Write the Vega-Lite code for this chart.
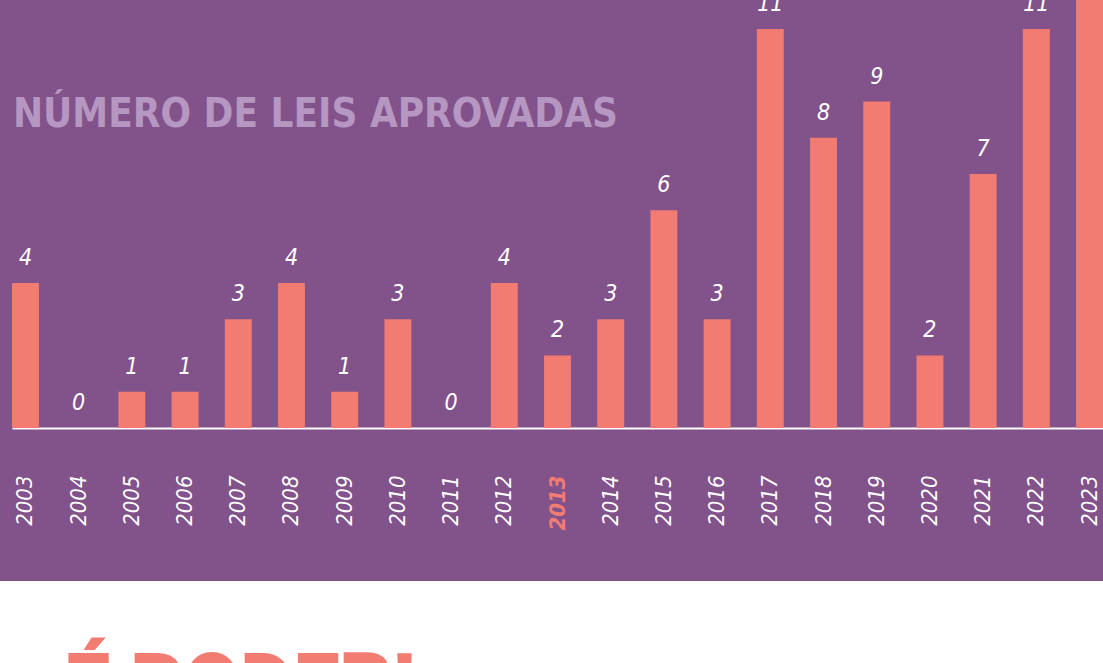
{
  "$schema": "https://vega.github.io/schema/vega-lite/v6.json",
  "background": "#82528A",
  "padding": 0,
  "spacing": 153,
  "bounds": "flush",
  "config": {"view": {"stroke": null}},
  "vconcat": [
    {
      "width": 1103,
      "height": 428,
      "title": {
        "text": "NÚMERO DE LEIS APROVADAS",
        "frame": "group",
        "anchor": "start",
        "orient": "top",
        "offset": -167,
        "baseline": "alphabetic",
        "dx": 13,
        "font": "DejaVu Sans Condensed, sans-serif",
        "fontSize": 40,
        "fontWeight": "bold",
        "color": "#B597C2"
      },
      "data": {
        "values": [
          {"year": "2003", "n": 4}, {"year": "2004", "n": 0}, {"year": "2005", "n": 1},
          {"year": "2006", "n": 1}, {"year": "2007", "n": 3}, {"year": "2008", "n": 4},
          {"year": "2009", "n": 1}, {"year": "2010", "n": 3}, {"year": "2011", "n": 0},
          {"year": "2012", "n": 4}, {"year": "2013", "n": 2}, {"year": "2014", "n": 3},
          {"year": "2015", "n": 6}, {"year": "2016", "n": 3}, {"year": "2017", "n": 11},
          {"year": "2018", "n": 8}, {"year": "2019", "n": 9}, {"year": "2020", "n": 2},
          {"year": "2021", "n": 7}, {"year": "2022", "n": 11}, {"year": "2023", "n": 13}
        ]
      },
      "encoding": {
        "x": {
          "field": "year",
          "type": "ordinal",
          "scale": {"range": [12, 1103], "paddingInner": 0.494, "paddingOuter": 0},
          "axis": {
            "title": null,
            "ticks": false,
            "domainColor": "white",
            "domainWidth": 2,
            "labelAngle": -90,
            "labelPadding": 47,
            "labelFont": "DejaVu Sans Condensed, sans-serif",
            "labelFontSize": 22,
            "labelFontStyle": "italic",
            "labelOverlap": false,
            "labelBound": false,
            "labelColor": {"condition": {"test": "datum.value == '2013'", "value": "#F27B72"}, "value": "white"},
            "labelFontWeight": {"condition": {"test": "datum.value == '2013'", "value": "bold"}, "value": "normal"}
          }
        },
        "y": {
          "field": "n",
          "type": "quantitative",
          "scale": {"domain": [0, 11.8], "nice": false, "zero": true},
          "axis": null
        }
      },
      "layer": [
        {"mark": {"type": "bar", "color": "#F27B72", "clip": true}},
        {
          "mark": {
            "type": "text",
            "clip": true,
            "dy": -18,
            "baseline": "alphabetic",
            "align": "center",
            "font": "DejaVu Sans Condensed, sans-serif",
            "fontSize": 23,
            "fontStyle": "italic",
            "color": "white"
          },
          "encoding": {"text": {"field": "n", "type": "quantitative"}}
        }
      ]
    },
    {
      "width": 1103,
      "height": 82,
      "view": {"fill": "white", "stroke": null},
      "data": {"values": [{"label": "É PODER!"}]},
      "mark": {
        "type": "text",
        "clip": true,
        "align": "left",
        "baseline": "alphabetic",
        "font": "Roboto, sans-serif",
        "fontWeight": 900,
        "fontSize": 82,
        "letterSpacing": 6,
        "color": "#F27B72"
      },
      "encoding": {
        "text": {"field": "label", "type": "nominal"},
        "x": {"value": 64},
        "y": {"value": 130}
      }
    }
  ]
}
